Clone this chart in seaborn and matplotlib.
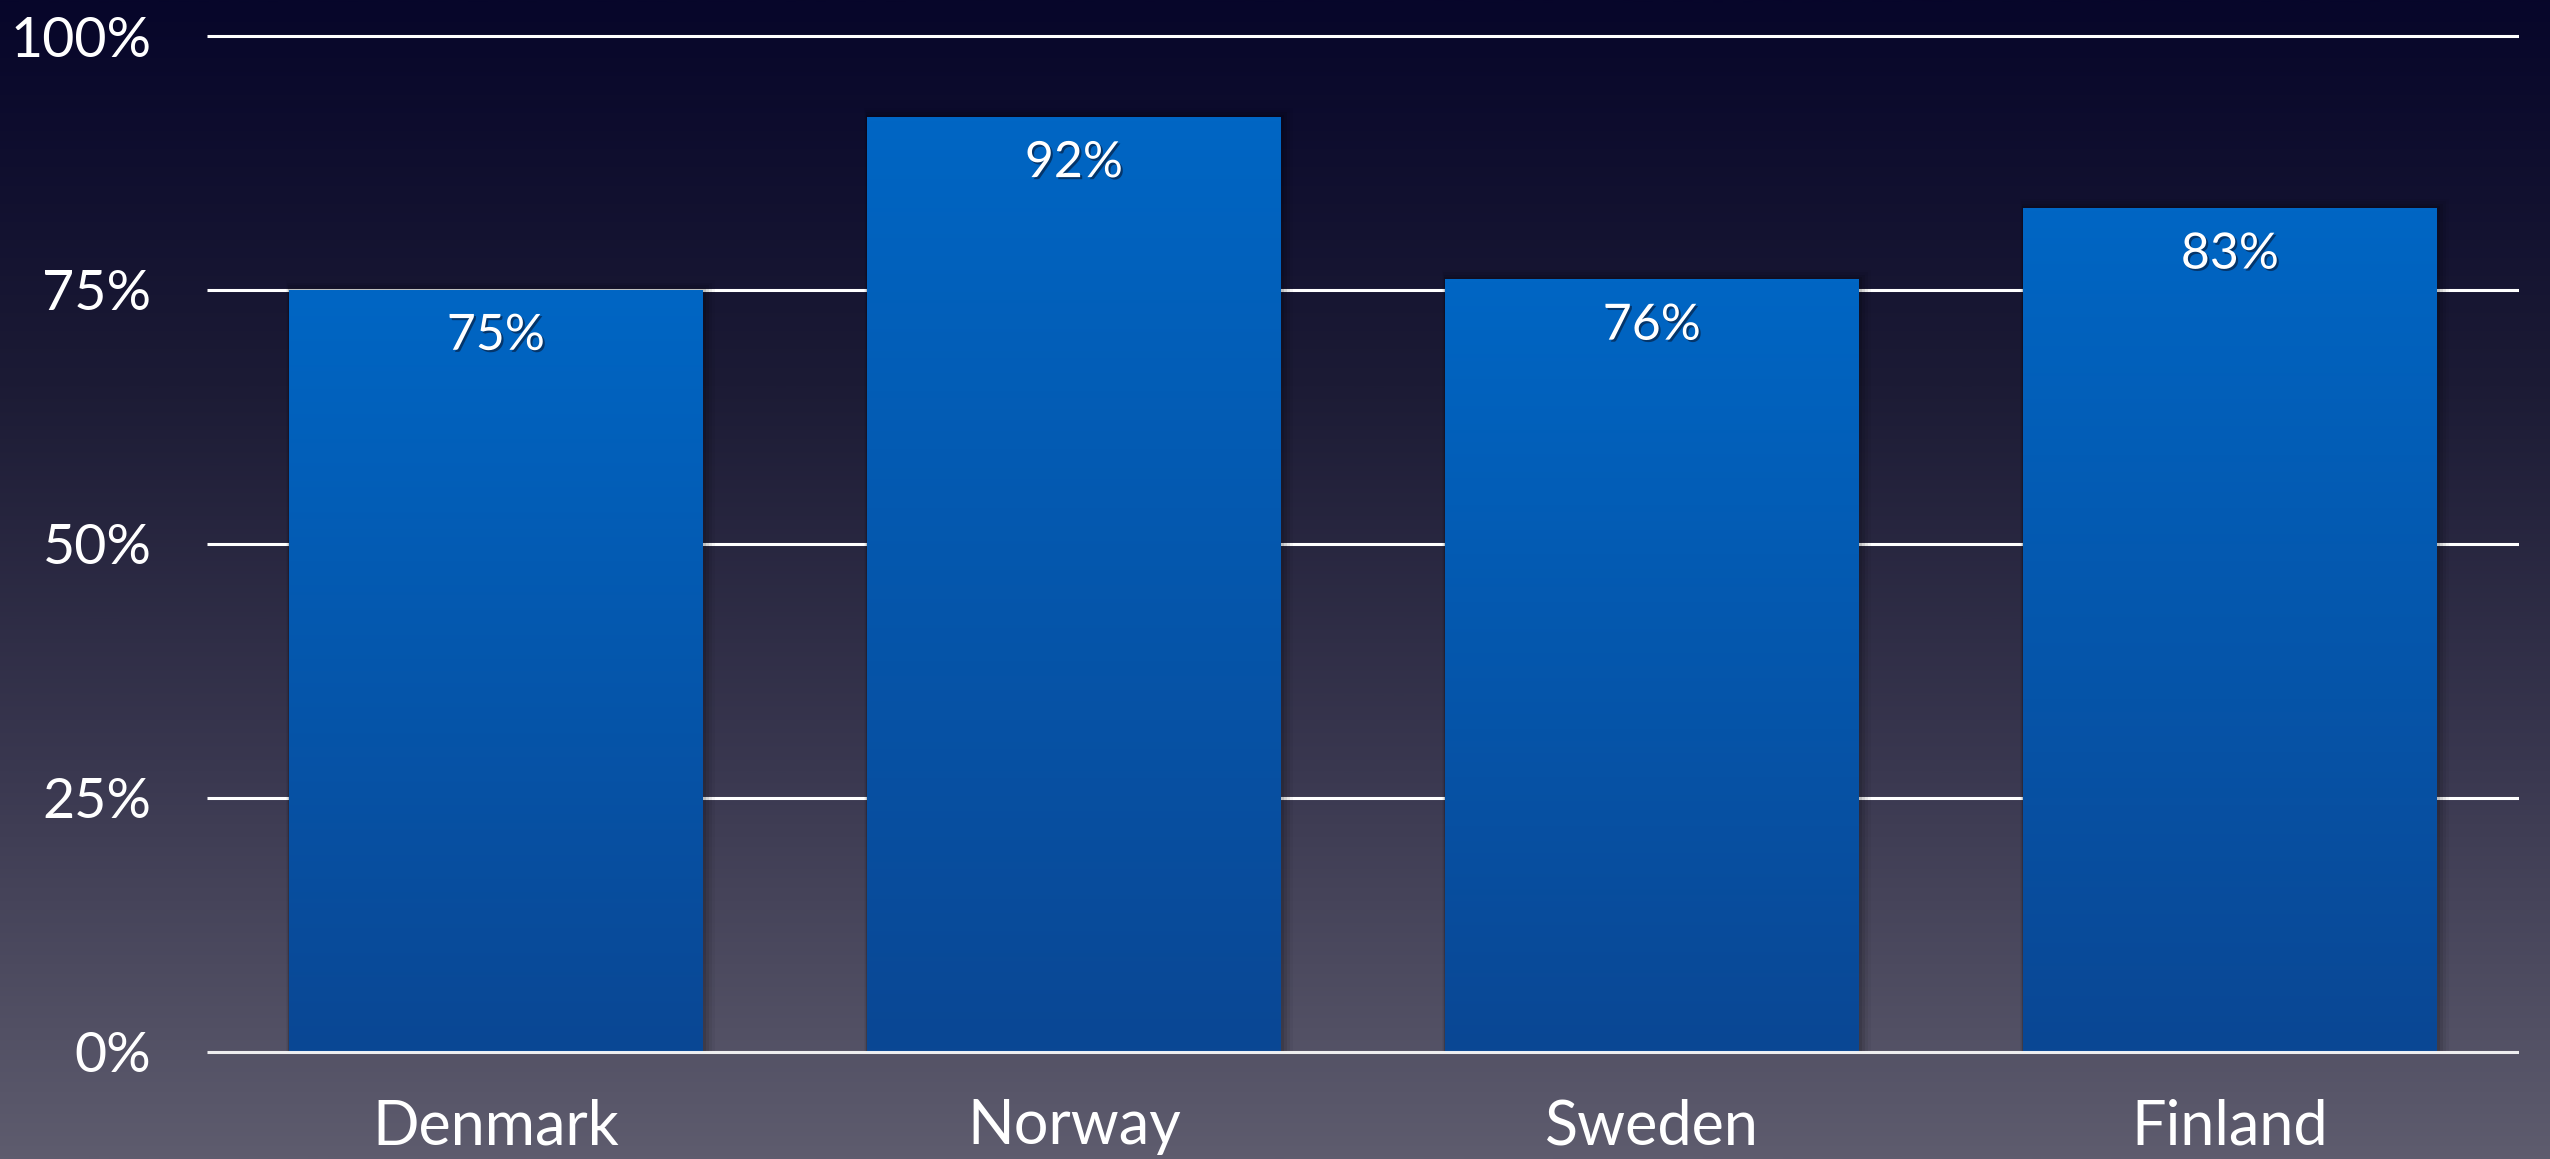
import numpy as np
import pandas as pd
import matplotlib
matplotlib.use("Agg")
import matplotlib.pyplot as plt
import matplotlib.patheffects as pe
from matplotlib.colors import LinearSegmentedColormap
from matplotlib.patches import Rectangle
import seaborn as sns

# Data
countries = ["Denmark", "Norway", "Sweden", "Finland"]
shares = [75, 92, 76, 83]
y_ticks = [0, 25, 50, 75, 100]
y_tick_labels = ["0%", "25%", "50%", "75%", "100%"]

sns.set_theme(style="white")
plt.rcParams["font.family"] = ["Lato", "DejaVu Sans"]

W, H, DPI = 2550, 1159, 100
fig = plt.figure(figsize=(W / DPI, H / DPI), dpi=DPI)

# Background: vertical gradient from deep navy to slate grey
bg = fig.add_axes([0, 0, 1, 1], zorder=-10)
bg_cmap = LinearSegmentedColormap.from_list(
    "bg", ["#07062a", "#1c1b35", "#3a3850", "#5e5c6e"])
grad = np.linspace(0, 1, 512).reshape(-1, 1)
bg.imshow(grad, aspect="auto", cmap=bg_cmap, extent=[0, 1, 0, 1], origin="upper")
bg.set_axis_off()

ax = fig.add_axes([0.0812, 0.0837, 0.9066, 0.894])
ax.set_facecolor("none")

df = pd.DataFrame({"country": countries, "share": shares})
sns.barplot(data=df, x="country", y="share", ax=ax, width=0.716,
            color="#0060b8", saturation=1, zorder=3)

XLIM, YLIM = (-0.5, 3.5), (-1, 101)

# Replace flat bars with a vertical blue gradient plus a soft shadow
bar_cmap = LinearSegmentedColormap.from_list("bar", ["#0a4794", "#0066c4"])
bar_grad = np.linspace(0, 1, 256).reshape(-1, 1)
for patch in list(ax.patches):
    x0, y0 = patch.get_x(), patch.get_y()
    w, h = patch.get_width(), patch.get_height()
    for k, a in enumerate([0.10, 0.08, 0.06, 0.04]):
        d = 0.004 * (k + 1)
        ax.add_patch(Rectangle((x0 - d * 0.3, y0), w + d * 1.6, h + d * 60,
                               facecolor="black", edgecolor="none",
                               alpha=a, zorder=2))
    ax.imshow(bar_grad, cmap=bar_cmap, aspect="auto", origin="lower",
              extent=[x0, x0 + w, y0, y0 + h], zorder=4)
    patch.set_visible(False)

# Horizontal gridlines (baseline drawn above the bars), clipped to the axes
for t in y_ticks:
    ax.hlines(t, XLIM[0], XLIM[1], color="white", lw=2.2,
              zorder=1 if t > 0 else 6, alpha=1 if t > 0 else 0.9)

# Value labels inside the top of each bar
for i, v in enumerate(shares):
    ax.annotate(f"{v}%", xy=(i, v), xytext=(0, -33), textcoords="offset points",
                ha="center", va="center", color="white", fontsize=36, zorder=7,
                path_effects=[pe.withSimplePatchShadow(offset=(1.5, -1.5),
                                                       shadow_rgbFace="#062a55",
                                                       alpha=0.8)])

ax.set_yticks(y_ticks)
ax.set_yticklabels(y_tick_labels)
ax.tick_params(axis="y", colors="white", labelsize=40, length=0, pad=40)
ax.tick_params(axis="x", colors="white", labelsize=44, length=0, pad=26)
ax.set_xlabel("")
ax.set_ylabel("")
for s in ax.spines.values():
    s.set_visible(False)

ax.set_autoscale_on(False)
ax.set_xlim(*XLIM)
ax.set_ylim(*YLIM)

fig.savefig("out.png", dpi=DPI)
